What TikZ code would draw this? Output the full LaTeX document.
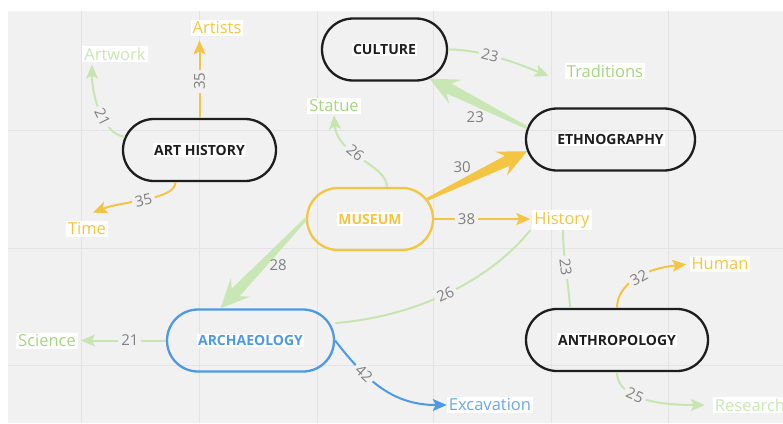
\documentclass[tikz,border=0pt]{standalone}
\usepackage{fontspec}
\setmainfont{Open Sans}
\usepackage{tikz}
\usetikzlibrary{calc, positioning, arrows.meta, shapes.misc}
\definecolor{mygold}{HTML}{F4C542}
\definecolor{mygreen}{HTML}{C7E5B1}
\definecolor{mygreentext}{HTML}{A5D67F}
\definecolor{mypale}{HTML}{C9E7B4}
\definecolor{myblue}{HTML}{4C9AE6}
\definecolor{mygray}{HTML}{808080}
\definecolor{panel}{HTML}{F1F1F1}
\definecolor{gridc}{HTML}{E3E3E3}
\definecolor{ink}{HTML}{1E1E1E}
\tikzset{
  topic/.style={rounded rectangle, draw=ink, line width=2.3pt, minimum height=62pt, inner sep=0pt,
    font=\fontsize{14}{16}\selectfont\bfseries, text=ink},
  leaf/.style={fill=white, inner sep=2pt, font=\fontsize{16.5}{19}\selectfont},
  link/.style={line width=2pt, -{Stealth[length=14pt,width=12pt,inset=3pt]}},
  plain/.style={line width=2pt},
  num/.style={fill=panel, text=mygray, inner sep=3pt, font=\fontsize{15}{17}\selectfont, sloped},
  numlbl/.style={text=mygray, inner sep=1pt, font=\fontsize{15}{17}\selectfont},
  gridline/.style={gridc, line width=1pt}
}
\newcommand{\hl}[1]{{\setlength{\fboxsep}{1.5pt}\colorbox{white}{#1}}}
% tapered arrow: colour, tail, tip, label, label shift
\newcommand{\fatarrow}[5]{%
  \coordinate (fa) at ($(#3)!29pt!(#2)$);
  \coordinate (fb) at ($(#3)!22pt!(#2)$);
  \fill[#1] ($(#2)!1.5pt!90:(#3)$) -- ($(fb)!5.5pt!90:(#3)$) -- ($(fa)!13.5pt!90:(#3)$) -- (#3)
    -- ($(fa)!13.5pt!-90:(#3)$) -- ($(fb)!5.5pt!-90:(#3)$) -- ($(#2)!1.5pt!-90:(#3)$) -- cycle;
  \path (#2) -- (#3) node[numlbl, pos=0.5, #5] {#4};}

\begin{document}
\begin{tikzpicture}[x=1pt, y=-1pt]
  \useasboundingbox (0,0) rectangle (783,423);
  \clip (0,0) rectangle (783,423);
  \fill[white] (0,0) rectangle (783,423);
  \fill[panel] (8,11) rectangle (783,423);
  \foreach \x in {81,199,317,433,551,668} \draw[gridline] (\x,11) -- (\x,423);
  \foreach \y in {130,248,365} \draw[gridline] (8,\y) -- (783,\y);

  % topics
  \node[topic, minimum width=153pt] (arth) at (199.5,150) {\hl{ART HISTORY}};
  \node[topic, minimum width=125pt] (cult) at (384.5,49.5) {\hl{CULTURE}};
  \node[topic, minimum width=169pt] (ethno) at (610.5,139.5) {\hl{ETHNOGRAPHY}};
  \node[topic, minimum width=126pt, draw=mygold, text=mygold] (mus) at (370,219) {\hl{MUSEUM}};
  \node[topic, minimum width=167pt, draw=myblue, text=myblue] (arch) at (250.5,340.5) {\hl{ARCHAEOLOGY}};
  \node[topic, minimum width=182pt] (anthro) at (617,340) {\hl{ANTHROPOLOGY}};

  % leaves
  \node[leaf, text=mygold] (artists) at (217,28) {Artists};
  \node[leaf, text=mypale] (artw) at (115,54) {Artwork};
  \node[leaf, text=mygold] (time) at (87,229) {Time};
  \node[leaf, text=mygreentext] (statue) at (334,106) {Statue};
  \node[leaf, text=mygreentext] (trad) at (605,71) {Traditions};
  \node[leaf, text=mygold] (hist) at (562,220) {History};
  \node[leaf, text=mygold] (human) at (720,264) {Human};
  \node[leaf, text=mygreentext] (sci) at (47,341) {Science};
  \node[leaf, text=myblue!85] (exc) at (490,405) {Excavation};
  \node[leaf, text=mypale] (res) at (750,405) {Research};

  % thick arrows
  \fatarrow{mypale}{ethno.172}{cult.-33}{23}{xshift=-3pt, yshift=-14pt}
  \fatarrow{mygold}{mus.19}{ethno.188}{30}{xshift=-15pt, yshift=8pt}
  \fatarrow{mypale}{mus.west}{arch.133}{28}{xshift=15pt, yshift=-1pt}

  % thin links
  \draw[link, mygold, shorten >=4pt] (arth.north) -- (arth.north |- artists.south) node[num, pos=0.45] {35};
  \draw[link, mygreen] (arth.170) .. controls +(-20,-2) and +(0,35) .. ([xshift=-23pt, yshift=-2pt]artw.south) node[num, pos=0.45] {21};
  \draw[link, mygold] ([xshift=-24pt]arth.south) .. controls +(0,18) and +(30,-12) .. ([shift={(6pt,8pt)}]time.north) node[num, pos=0.52] {35};
  \draw[link, mygreen] (cult.east) .. controls +(35,0) and +(-30,-12) .. ([shift={(-16pt,-5pt)}]trad.west) node[num, pos=0.4] {23};
  \draw[link, mygreen] ([xshift=17pt]mus.north) .. controls +(0,-22) and +(3,40) .. ([yshift=-1pt]statue.south) node[num, pos=0.58] {26};
  \draw[link, mygold, shorten >=2pt] (mus.east) -- (mus.east -| hist.west) node[num, pos=0.33] {38};
  \draw[link, mygreen, shorten >=3pt] (arch.west) -- (arch.west -| sci.east) node[num, pos=0.41] {21};
  \draw[link, myblue] (arch.east) .. controls +(33,43) and +(-52,0) .. (exc.west) node[num, pos=0.3] {42};
  \draw[plain, mygreen, shorten >=5pt] ([xshift=-2pt]hist.south west) .. controls +(-43,53) and +(83,-7) .. (arch.12) node[num, pos=0.5] {26};
  \draw[plain, mygreen] ([xshift=1pt]hist.south) .. controls +(0,28) and +(-1,-22) .. ([xshift=-47pt]anthro.north) node[num, pos=0.45] {23};
  \draw[link, mygold, shorten >=3pt] (anthro.north) .. controls +(0,-22) and +(-48,5) .. (human.west) node[num, pos=0.55] {32};
  \draw[link, mygreen, shorten >=8pt] (anthro.south) .. controls +(0,22) and +(-68,0) .. (res.west) node[num, pos=0.45] {25};
\end{tikzpicture}
\end{document}
